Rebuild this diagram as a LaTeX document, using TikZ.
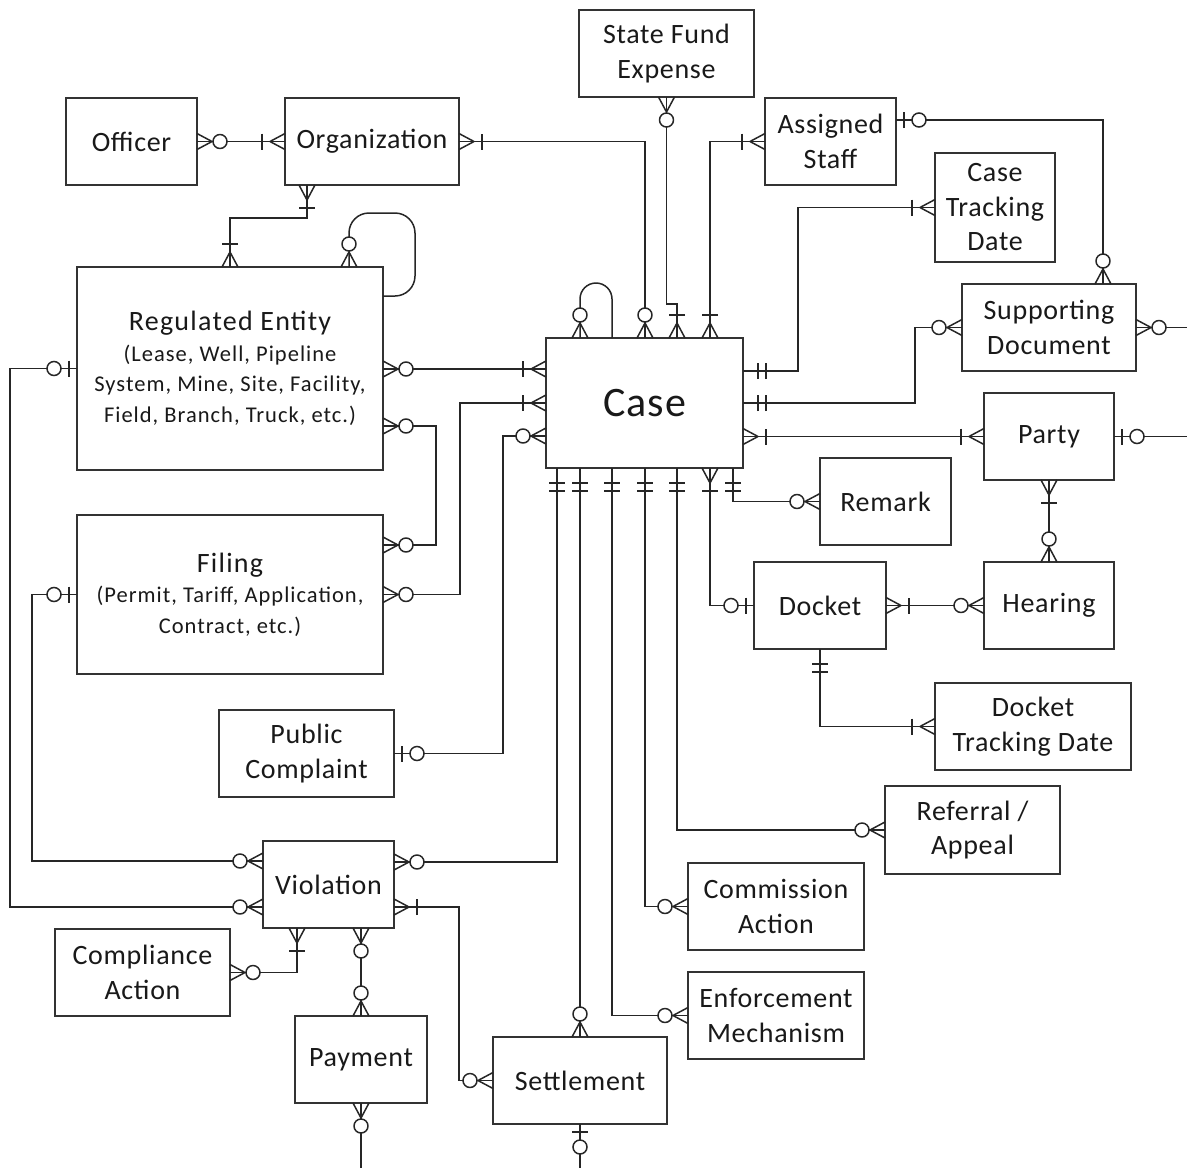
\documentclass[tikz,border=0pt]{standalone}
\usepackage{fontspec}
\setmainfont{Carlito}[LetterSpace=2.5]
\newfontfamily\entsubfamily{Carlito}[LetterSpace=4.5]
\newcommand\entfont{\fontsize{28}{34.5}\selectfont}
\newcommand\entsubfont{\entsubfamily\fontsize{22.5}{30.5}\selectfont}
\newcommand\casefont{\fontsize{42}{48}\selectfont}

% pieces of the crow's foot end markers (tip on the entity border, line along -x)
\newcommand\crowfoot{%
  \pgfpathmoveto{\pgfqpoint{0pt}{8pt}}%
  \pgfpathlineto{\pgfqpoint{-15pt}{0pt}}%
  \pgfpathlineto{\pgfqpoint{0pt}{-8pt}}%
  \pgfusepathqstroke}
\newcommand\crowbar[1]{%
  \pgfpathmoveto{\pgfqpoint{#1}{8pt}}%
  \pgfpathlineto{\pgfqpoint{#1}{-8pt}}%
  \pgfusepathqstroke}
\newcommand\crowring{%
  \pgfscope
  \pgfsetfillcolor{white}%
  \pgfpathcircle{\pgfqpoint{-23pt}{0pt}}{7pt}%
  \pgfusepathqfillstroke
  \endpgfscope}
\newcommand\crowsetup{%
  \pgfarrowssettipend{0pt}\pgfarrowssetlineend{0pt}%
  \pgfarrowssetbackend{-31pt}\pgfarrowssetvisualbackend{-31pt}%
  \pgfarrowshullpoint{0pt}{9pt}\pgfarrowshullpoint{0pt}{-9pt}%
  \pgfarrowshullpoint{-31pt}{9pt}\pgfarrowshullpoint{-31pt}{-9pt}}

% zero or many
\pgfdeclarearrow{
  name = zmany,
  setup code = {\crowsetup},
  drawing code = {\pgfsetroundjoin\crowfoot\crowring},
}
% one or many
\pgfdeclarearrow{
  name = omany,
  setup code = {\crowsetup},
  drawing code = {\pgfsetroundjoin\crowfoot\crowbar{-23pt}},
}
% zero or one
\pgfdeclarearrow{
  name = zone,
  setup code = {\crowsetup},
  drawing code = {\crowbar{-8pt}\crowring},
}
% exactly one
\pgfdeclarearrow{
  name = oone,
  setup code = {\crowsetup},
  drawing code = {\crowbar{-15pt}\crowbar{-23pt}},
}

\begin{document}
\begin{tikzpicture}[x=1pt, y=-1pt,
  ent/.style={draw=black!80, line width=1.5pt, fill=white, inner sep=0pt,
    outer sep=0pt, align=center, font=\entfont, text=black!90},
  rel/.style={draw=black!85, line width=1.5pt},
]
\useasboundingbox[fill=white] (0,0) rectangle (1187,1168);

% free ends at the border of the sheet
\coordinate (rEdge) at (1187,0);
\coordinate (bEdge) at (0,1168);

% entities
\node[ent, minimum width=131, minimum height=87] (officer) at (131.5,141.5) {Officer};
\node[ent, minimum width=174, minimum height=87] (org) at (372,141.5) {Organization};
\node[ent, minimum width=175, minimum height=87] (sfe) at (666.5,53.5) {State Fund\\Expense};
\node[ent, minimum width=131, minimum height=87] (staff) at (830.5,141.5) {Assigned\\Staff};
\node[ent, minimum width=120, minimum height=109] (ctd) at (995,207.5) {Case\\Tracking\\Date};
\node[ent, minimum width=174, minimum height=87] (sdoc) at (1049,327.5) {Supporting\\Document};
\node[ent, minimum width=306, minimum height=203, font=\entsubfont] (re) at (230,368.5)
  {{\entfont Regulated Entity}\\(Lease, Well, Pipeline\\System, Mine, Site, Facility,\\Field, Branch, Truck, etc.)};
\node[ent, minimum width=197, minimum height=130, font=\casefont] (case) at (644.5,403) {Case};
\node[ent, minimum width=130, minimum height=87] (party) at (1049,436.5) {Party};
\node[ent, minimum width=131, minimum height=87] (remark) at (885.5,501.5) {Remark};
\node[ent, minimum width=306, minimum height=159, font=\entsubfont] (filing) at (230,594.5)
  {{\entfont Filing}\\(Permit, Tariff, Application,\\Contract, etc.)};
\node[ent, minimum width=132, minimum height=87] (docket) at (820,605.5) {Docket};
\node[ent, minimum width=130, minimum height=87] (hearing) at (1049,605.5) {Hearing};
\node[ent, minimum width=196, minimum height=87] (dtd) at (1033,726.5) {Docket\\Tracking Date};
\node[ent, minimum width=175, minimum height=87] (pc) at (306.5,753.5) {Public\\Complaint};
\node[ent, minimum width=175, minimum height=88] (referral) at (972.5,830) {Referral /\\Appeal};
\node[ent, minimum width=131, minimum height=87] (violation) at (328.5,884.5) {Violation};
\node[ent, minimum width=176, minimum height=87] (comm) at (776,906.5) {Commission\\Action};
\node[ent, minimum width=175, minimum height=87] (compliance) at (142.5,972.5) {Compliance\\Action};
\node[ent, minimum width=176, minimum height=87] (enforce) at (776,1015.5) {Enforcement\\Mechanism};
\node[ent, minimum width=132, minimum height=87] (payment) at (361,1059.5) {Payment};
\node[ent, minimum width=174, minimum height=87] (settlement) at (580,1080.5) {Settlement};

% relationships around Organization
\draw[rel, zmany-omany] (officer.east) -- (org.west);
\draw[rel, omany-zmany] (org.east) -| (case.north -| 645,0);
\draw[rel, omany-omany] (org.south -| 307,0) -- ++(0,33) -| (re.north);

% self references
\draw[rel, zmany-, rounded corners=20pt] (re.north -| 349,0) -- (349,213) -- (415,213)
  -- (415,296) -- (re.east |- 0,296);
\draw[rel, zmany-, rounded corners=16pt] (case.north -| 580,0) -- (580,283) -- (612,283)
  -- (case.north -| 612,0);

% top of Case
\draw[rel, zmany-omany] (sfe.south) -- (666.5,304) -- (677,304) -- (case.north -| 677,0);
\draw[rel, omany-omany] (staff.west) -| (case.north -| 710,0);
\draw[rel, zone-zmany] (staff.east |- 0,120) -| (sdoc.north -| 1103,0);

% right of Case
\draw[rel, oone-omany] (case.east |- 0,371) -- ++(55,0) |- (ctd.west);
\draw[rel, oone-zmany] (case.east) -- ++(172,0) |- (sdoc.west);
\draw[rel, omany-omany] (case.east |- party.west) -- (party.west);
\draw[rel, zmany-] (sdoc.east) -- (sdoc.east -| rEdge);
\draw[rel, zone-] (party.east) -- (party.east -| rEdge);
\draw[rel, omany-zmany] (party.south) -- (hearing.north);

% left of Case
\draw[rel, zmany-omany] (re.east |- 0,369) -- (case.west |- 0,369);
\draw[rel, zmany-zmany] (re.east |- 0,426) -- ++(53,0) |- (filing.east |- 0,545);
\draw[rel, zmany-omany] (filing.east) -- ++(77,0) |- (case.west);
\draw[rel, zone-zmany] (pc.east) -- ++(109,0) |- (case.west |- 0,436);

% Violation links
\draw[rel, zone-zmany] (re.west) -- ++(-67,0) |- (violation.west |- 0,907);
\draw[rel, zone-zmany] (filing.west) -- ++(-45,0) |- (violation.west |- 0,861);
\draw[rel, oone-zmany] (case.south -| 557,0) |- (violation.east |- 0,862);
\draw[rel, omany-zmany] (violation.east |- 0,907) -- ++(65,0) |- (settlement.west);
\draw[rel, omany-zmany] (violation.south -| 297,0) |- (compliance.east);
\draw[rel, zmany-zmany] (violation.south -| 361,0) -- (payment.north);
\draw[rel, zmany-] (payment.south) -- (payment.south |- bEdge);
\draw[rel, zone-] (settlement.south) -- (settlement.south |- bEdge);

% bottom of Case
\draw[rel, oone-zmany] (case.south -| 580,0) -- (settlement.north);
\draw[rel, oone-zmany] (case.south -| 612,0) |- (enforce.west);
\draw[rel, oone-zmany] (case.south -| 645,0) |- (comm.west);
\draw[rel, oone-zmany] (case.south -| 677,0) |- (referral.west);
\draw[rel, omany-zone] (case.south -| 710,0) |- (docket.west);
\draw[rel, oone-zmany] (case.south -| 733,0) |- (remark.west);

% Docket links
\draw[rel, omany-zmany] (docket.east) -- (hearing.west);
\draw[rel, oone-omany] (docket.south) |- (dtd.west);
\end{tikzpicture}
\end{document}
